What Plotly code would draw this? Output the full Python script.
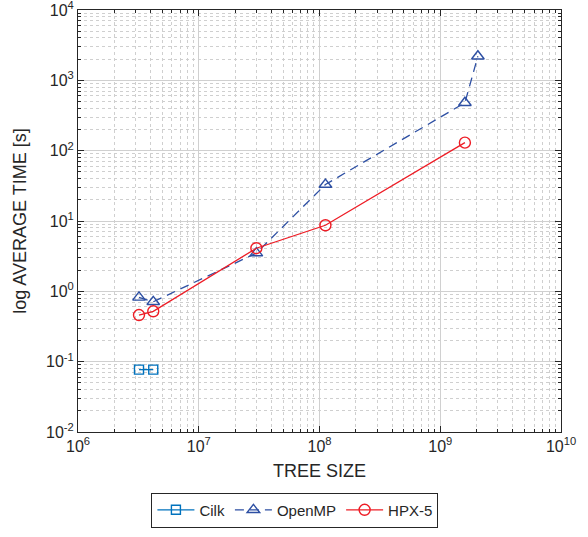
import plotly.graph_objects as go

# Data
cilk_x = [3.2e6, 4.2e6]
cilk_y = [0.077, 0.077]

openmp_x = [3.2e6, 4.2e6, 3.0e7, 1.12e8, 1.6e9, 2.05e9]
openmp_y = [0.82, 0.71, 3.5, 33, 480, 2200]

hpx_x = [3.2e6, 4.2e6, 3.0e7, 1.12e8, 1.6e9]
hpx_y = [0.46, 0.52, 4.1, 8.7, 130]

x_ticks = [1e6, 1e7, 1e8, 1e9, 1e10]
x_tick_text = ["10<sup>6</sup>", "10<sup>7</sup>", "10<sup>8</sup>", "10<sup>9</sup>", "10<sup>10</sup>"]
y_ticks = [1e-2, 1e-1, 1e0, 1e1, 1e2, 1e3, 1e4]
y_tick_text = ["10<sup>-2</sup>", "10<sup>-1</sup>", "10<sup>0</sup>", "10<sup>1</sup>",
               "10<sup>2</sup>", "10<sup>3</sup>", "10<sup>4</sup>"]

C_CILK = "#0072BD"
C_OMP = "#2D4FA3"
C_HPX = "#EE1C25"
FONT = "Liberation Sans, Arial, sans-serif"

fig = go.Figure()
fig.add_trace(go.Scatter(x=cilk_x, y=cilk_y, name="Cilk", mode="lines+markers",
                         line=dict(color=C_CILK, width=1.3),
                         marker=dict(symbol="square-open", size=9, color=C_CILK, line=dict(width=1.4))))
fig.add_trace(go.Scatter(x=openmp_x, y=openmp_y, name="OpenMP", mode="lines+markers",
                         line=dict(color=C_OMP, width=1.3, dash="9px,6px"),
                         marker=dict(symbol="triangle-up-open", size=11, color=C_OMP, line=dict(width=1.4))))
fig.add_trace(go.Scatter(x=hpx_x, y=hpx_y, name="HPX-5", mode="lines+markers",
                         line=dict(color=C_HPX, width=1.3),
                         marker=dict(symbol="circle-open", size=11, color=C_HPX, line=dict(width=1.4))))

axis_common = dict(
    type="log", automargin=False, ticklabeloverflow="allow",
    showline=True, linecolor="#262626", linewidth=1, mirror="ticks",
    ticks="inside", ticklen=6, tickcolor="#262626", tickwidth=1,
    showgrid=True, gridcolor="#D0D0D0", gridwidth=1,
    zeroline=False,
    tickfont=dict(family=FONT, size=16, color="#262626"),
    minor=dict(dtick="D1", ticks="inside", ticklen=3, tickcolor="#262626",
               showgrid=True, gridcolor="#CFCFCF", griddash="dot", gridwidth=1),
)

fig.update_xaxes(**axis_common, range=[6, 10], tickvals=x_ticks, ticktext=x_tick_text,
                 title=dict(text="TREE SIZE", standoff=10,
                            font=dict(family=FONT, size=18, color="#262626")))
fig.update_yaxes(**axis_common, range=[-2, 4], tickvals=y_ticks, ticktext=y_tick_text,
                 title=dict(text="log AVERAGE TIME [s]", standoff=14,
                            font=dict(family=FONT, size=18, color="#262626")))

fig.update_layout(
    width=588, height=537,
    margin=dict(l=78, r=27, t=10, b=103),
    paper_bgcolor="white", plot_bgcolor="white",
    font=dict(family=FONT, color="#262626"),
    legend=dict(orientation="h", x=0.152, xanchor="left", y=-0.185, yanchor="middle",
                bordercolor="#262626", borderwidth=1, bgcolor="white",
                font=dict(size=15, color="#262626"), itemwidth=37, tracegroupgap=0),
    showlegend=True,
)

fig.write_html("out.html", config={"displayModeBar": False},
               post_script="document.body.style.margin='0px';")
